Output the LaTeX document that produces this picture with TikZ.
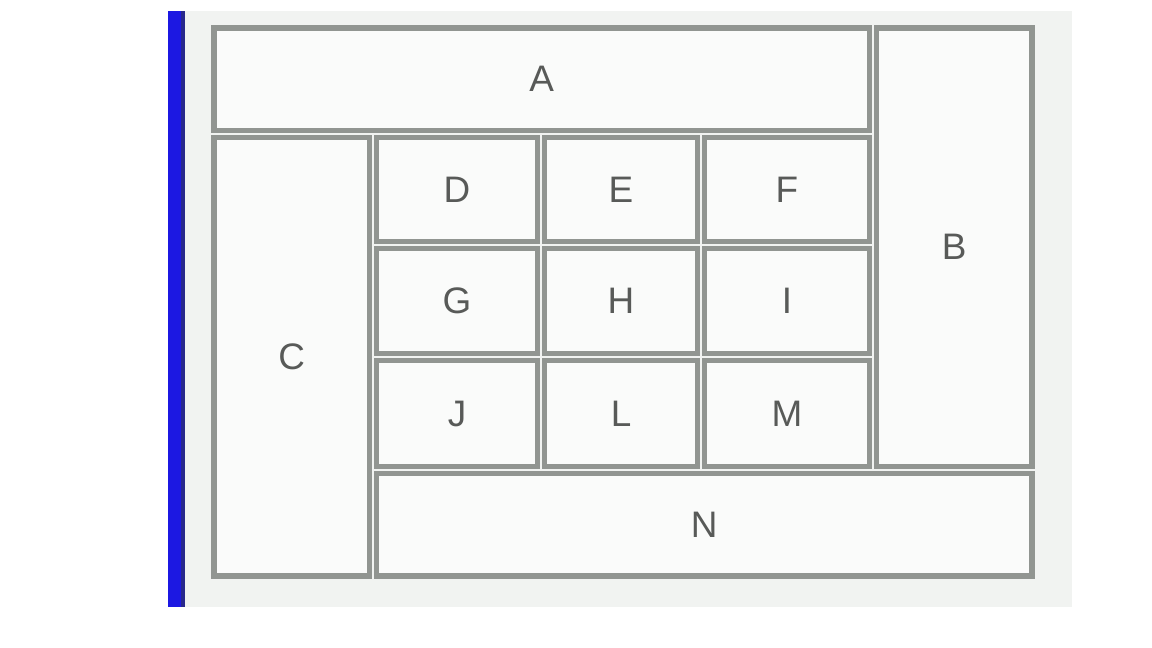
\documentclass[tikz,border=0pt]{standalone}
\usepackage{fontspec}
\setsansfont{Liberation Sans}
\usetikzlibrary{fit}
\definecolor{barblue}{RGB}{28,24,226}
\definecolor{bardark}{RGB}{40,40,140}
\definecolor{panel}{RGB}{241,243,241}
\definecolor{cellfill}{RGB}{250,251,250}
\definecolor{edgegray}{RGB}{145,149,145}
\definecolor{textgray}{RGB}{88,90,88}
\tikzset{cell/.style={draw=edgegray, fill=cellfill, line width=3.1pt, inner sep=0pt},
  celltext/.style={font=\sffamily\fontsize{21}{21}\selectfont, text=textgray, inner sep=0pt}}

\begin{document}
\begin{tikzpicture}[x=0.02cm, y=-0.02cm]

      \useasboundingbox (0,0) rectangle (1152,648);

      % panel and blue bar
      \fill [panel] (185,11) rectangle (1072,607);
      \fill [barblue] (168,11) rectangle (182,607);
      \fill [bardark] (181,11) rectangle (185,607);

      % outer blocks
      \foreach \n/\xa/\ya/\xb/\yb in {A/214/28/869.5/130.5, B/876.5/28/1032/466.5,
          C/214/137.5/369.5/576, N/376.5/473.5/1032/576}
        \node [cell, fit={(\xa,\ya) (\xb,\yb)}, label={[celltext]center:\n}] (\n) {};

      % inner grid
      \foreach \n/\xa/\ya/\xb/\yb in {D/376.5/137.5/537.5/241.5, E/544.5/137.5/697.5/241.5,
          F/704.5/137.5/869.5/241.5,
          G/376.5/248.5/537.5/353.5, H/544.5/248.5/697.5/353.5, I/704.5/248.5/869.5/353.5,
          J/376.5/360.5/537.5/466.5, L/544.5/360.5/697.5/466.5, M/704.5/360.5/869.5/466.5}
        \node [cell, fit={(\xa,\ya) (\xb,\yb)}, label={[celltext]center:\n}] (\n) {};

    \end{tikzpicture}
\end{document}
